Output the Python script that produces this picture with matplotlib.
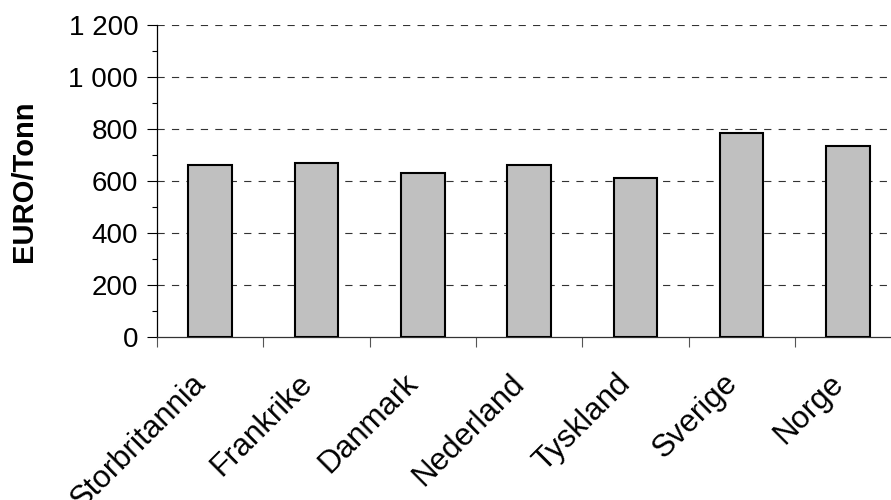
import matplotlib
matplotlib.use("Agg")
import matplotlib.pyplot as plt
import matplotlib.transforms as mtransforms
from matplotlib.ticker import FuncFormatter, MultipleLocator, FixedLocator

plt.rcParams['font.family'] = ['Liberation Sans', 'DejaVu Sans']

countries = ["Storbritannia", "Frankrike", "Danmark", "Nederland",
             "Tyskland", "Sverige", "Norge"]
price_eur_per_tonn = [660, 670, 630, 660, 610, 785, 735]

fig = plt.figure(figsize=(8.91, 5.0), dpi=100)

# axes in pixel terms: left 157, bottom 337, top 25, 106.3 px per category
left = 157 / 891
bottom = 1 - 337 / 500
height = (337 - 25) / 500
width = 7 * 106.3 / 891
ax = fig.add_axes([left, bottom, width, height])

x = list(range(len(countries)))
ax.bar(x, price_eur_per_tonn, width=0.41, color="#C0C0C0",
       edgecolor="black", linewidth=1.5, zorder=3)

ax.set_xlim(-0.5, len(countries) - 0.5)
ax.set_ylim(0, 1200)

# y axis
ax.yaxis.set_major_locator(MultipleLocator(200))
ax.yaxis.set_minor_locator(MultipleLocator(100))
ax.yaxis.set_major_formatter(FuncFormatter(lambda v, p: f"{int(v):,}".replace(",", " ")))
ax.tick_params(axis="y", which="major", length=7.5, width=0.8, labelsize=20, pad=6)
ax.tick_params(axis="y", which="minor", length=3.8, width=0.8)

# x axis: ticks at category boundaries, labels at centres
ax.xaxis.set_major_locator(FixedLocator([i - 0.5 for i in range(len(countries) + 1)]))
ax.xaxis.set_major_formatter(FuncFormatter(lambda v, p: ""))
ax.set_xticks(x, minor=True)
ax.set_xticklabels(countries, minor=True, rotation=45, ha="right",
                   va="center", rotation_mode="anchor", fontsize=22.5)
ax.tick_params(axis="x", which="major", length=7.5, width=0.8, color="#555555")
ax.tick_params(axis="x", which="minor", length=0, pad=30)

shift = mtransforms.ScaledTranslation(-9 / 100, 0, fig.dpi_scale_trans)
for lbl in ax.get_xticklabels(minor=True):
    lbl.set_transform(lbl.get_transform() + shift)

# dashed gridlines
for v in range(200, 1201, 200):
    ax.axhline(v, color="#333333", linewidth=0.8, dashes=(6.5, 6.5), zorder=1)

for s in ["top", "right"]:
    ax.spines[s].set_visible(False)
ax.spines["left"].set_linewidth(0.9)
ax.spines["bottom"].set_linewidth(0.9)
ax.spines["bottom"].set_color("#333333")

ax.set_ylabel("EURO/Tonn", fontsize=21, fontweight="bold", va="center")
ax.yaxis.set_label_coords((24 - 157) / (7 * 106.3), 0.5)

fig.savefig("out.png", dpi=100)
